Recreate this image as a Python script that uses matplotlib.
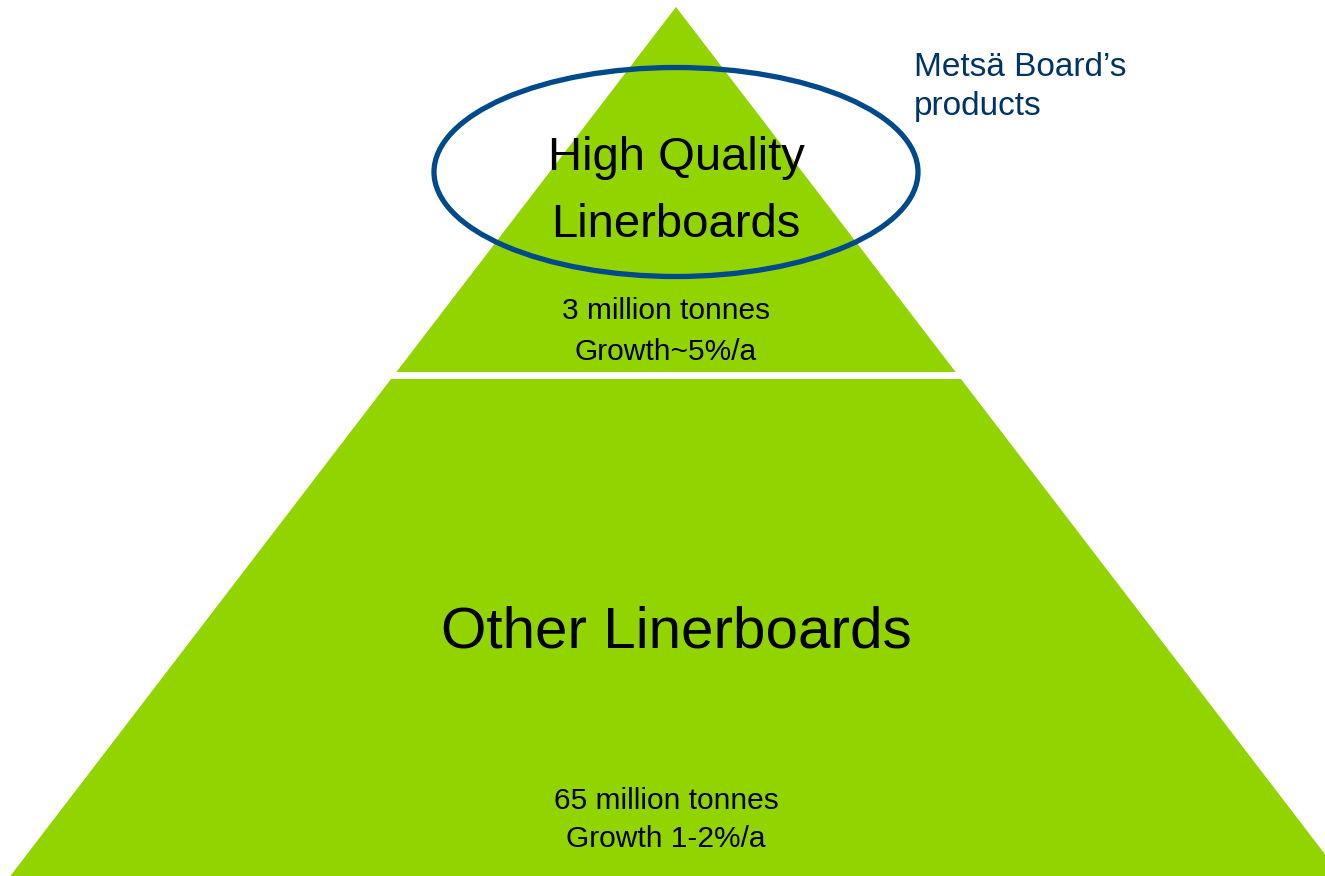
import matplotlib
matplotlib.use("Agg")
import matplotlib.pyplot as plt
from matplotlib.patches import Polygon, Ellipse

plt.rcParams['font.family'] = ['Liberation Sans', 'DejaVu Sans']

# pyramid tiers, top to bottom
tiers = ["High Quality\nLinerboards", "Other Linerboards"]
volumes = ["3 million tonnes", "65 million tonnes"]
growth = ["Growth~5%/a", "Growth 1-2%/a"]
highlight = "Metsä Board’s\nproducts"

green = "#92d400"
ring_blue = "#004a8c"
navy = "#003466"

W, H = 1325, 876
fig = plt.figure(figsize=(W / 100, H / 100), dpi=100)
ax = fig.add_axes([0, 0, 1, 1])
ax.set_xlim(0, W)
ax.set_ylim(H, 0)
ax.axis("off")

# pyramid: apex and slope of the sides (x change per pixel down)
apex_x, apex_y = 676, 7
slope = 0.766
split_y, gap = 372, 7

def side(y):
    d = (y - apex_y) * slope
    return apex_x - d, apex_x + d

l1, r1 = side(split_y)
ax.add_patch(Polygon([(apex_x, apex_y), (r1, split_y), (l1, split_y)],
                     closed=True, fc=green, ec="none"))
top2 = split_y + gap
l2, r2 = side(top2)
l3, r3 = side(H + 5)
ax.add_patch(Polygon([(l2, top2), (r2, top2), (r3, H + 5), (l3, H + 5)],
                     closed=True, fc=green, ec="none"))

# ring around the top tier
ax.add_patch(Ellipse((676, 172), 484, 209, fc="none", ec=ring_blue, lw=3.8))

name_top = tiers[0].split("\n")
ax.text(676, 170, name_top[0], ha="center", va="baseline", fontsize=34, color="black")
ax.text(676, 237, name_top[1], ha="center", va="baseline", fontsize=34, color="black")
ax.text(666, 319, volumes[0], ha="center", va="baseline", fontsize=21.5, color="black")
ax.text(666, 360, growth[0], ha="center", va="baseline", fontsize=21.5, color="black")

ax.text(676, 648, tiers[1], ha="center", va="baseline", fontsize=42, color="black")
ax.text(666, 809, volumes[1], ha="center", va="baseline", fontsize=21.5, color="black")
ax.text(666, 847, growth[1], ha="center", va="baseline", fontsize=21.5, color="black")

hl = highlight.split("\n")
ax.text(914, 76, hl[0], ha="left", va="baseline", fontsize=24, color=navy)
ax.text(914, 115, hl[1], ha="left", va="baseline", fontsize=24, color=navy)

fig.savefig("out.png", dpi=100)
